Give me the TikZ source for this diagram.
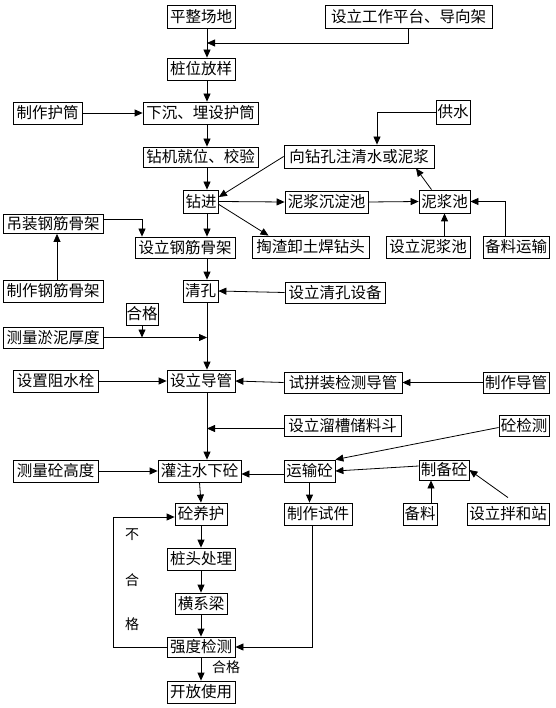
\documentclass[tikz,border=0pt]{standalone}
\usepackage{fontspec}
\usepackage{tikz}
\usetikzlibrary{
    arrows.meta,
    positioning,
    calc
}
\newfontfamily\cjk{Noto Sans CJK SC}
\tikzset{
    % Process box style
    box/.style={
        rectangle,
        draw=black,
        line width=0.8pt,
        inner sep=0.5pt,
        minimum height=22pt,
        align=center,
        font=\cjk\fontsize{15.5}{17}\selectfont
    },
    % Arrow styles
    flow/.style={
        -{Triangle[length=8pt, width=7pt]},
        line width=0.8pt
    },
    link/.style={
        line width=0.8pt
    },
    % Side note style
    note/.style={
        font=\cjk\fontsize{14}{16}\selectfont,
        inner sep=0pt
    }
}
\begin{document}
\begin{tikzpicture}[x=1pt, y=-1pt]
        \useasboundingbox (0,0) rectangle (555,708);
        \coordinate (spine) at (207,0);
        \coordinate (back) at (113,0);

        % Site preparation
        \node[box, minimum width=68pt, minimum height=23pt] (ping) at (201,16.5) {平整场地};
        \node[box, minimum width=167pt, minimum height=23pt] (gongzuo) at (408.5,16.5) {设立工作平台、导向架};
        \node[box, minimum width=68pt] (zhuangwei) at (201,69) {桩位放样};
        \node[box, minimum width=69pt] (hutong) at (47.5,113) {制作护筒};
        \node[box, minimum width=115pt] (xiachen) at (200.5,113) {下沉、埋设护筒};
        \node[box, minimum width=115pt, minimum height=20pt] (zuanji) at (200.5,157) {钻机就位、校验};

        % Drilling and mud
        \node[box, minimum width=34pt, minimum height=24pt] (gongshui) at (453,112) {供水};
        \node[box, minimum width=150pt, minimum height=23pt] (zhushui) at (359,156.5) {向钻孔注清水或泥浆};
        \node[box, minimum width=35pt, minimum height=23pt] (zuanjin) at (201,201.5) {钻进};
        \node[box, minimum width=83pt] (chendian) at (326.5,202) {泥浆沉淀池};
        \node[box, minimum width=51pt, minimum height=23pt] (nijiang) at (444.5,201.5) {泥浆池};
        \node[box, minimum width=117pt] (taozha) at (310.5,247) {掏渣卸土焊钻头};
        \node[box, minimum width=84pt] (shenijiang) at (428,247) {设立泥浆池};
        \node[box, minimum width=66pt] (beiliao) at (516,247) {备料运输};

        % Cage and hole cleaning
        \node[box, minimum width=100pt, minimum height=19pt] (diaozhuang) at (53,224) {吊装钢筋骨架};
        \node[box, minimum width=100pt, minimum height=21pt] (gangjin) at (185,247.5) {设立钢筋骨架};
        \node[box, minimum width=100pt] (zhizuo) at (53,291) {制作钢筋骨架};
        \node[box, minimum width=35pt] (qingkong) at (200.5,291) {清孔};
        \node[box, minimum width=100pt, minimum height=21pt] (qingshebei) at (335,292.5) {设立清孔设备};
        \node[box, minimum width=32pt] (hege) at (142,314) {合格};
        \node[box, minimum width=100pt, minimum height=21pt] (yuni) at (53,337.5) {测量淤泥厚度};

        % Tremie pipe and concreting
        \node[box, minimum width=85pt] (zushui) at (55.5,381) {设置阻水栓};
        \node[box, minimum width=68pt] (daoguan) at (201,381) {设立导管};
        \node[box, minimum width=118pt, minimum height=21pt] (shipin) at (343,382.5) {试拼装检测导管};
        \node[box, minimum width=66pt, minimum height=21pt] (zhidaoguan) at (516,382.5) {制作导管};
        \node[box, minimum width=117pt, minimum height=21pt] (liucao) at (342.5,425.5) {设立溜槽储料斗};
        \node[box, minimum width=50pt, minimum height=21pt] (jiance) at (524,425.5) {砼检测};
        \node[box, minimum width=85pt] (gaodu) at (55.5,471) {测量砼高度};
        \node[box, minimum width=83pt] (guanzhu) at (199.5,471) {灌注水下砼};
        \node[box, minimum width=51pt] (yunshu) at (309.5,471) {运输砼};
        \node[box, minimum width=50pt, minimum height=20pt] (zhibei) at (444,470) {制备砼};
        \node[box, minimum width=34pt] (beiliaob) at (420,514) {备料};
        \node[box, minimum width=82pt] (banhe) at (508,514) {设立拌和站};

        % Curing and testing
        \node[box, minimum width=52pt] (yanghu) at (201,514) {砼养护};
        \node[box, minimum width=68pt] (shijian) at (318,514) {制作试件};
        \node[box, minimum width=68pt] (zhuangtou) at (201,559) {桩头处理};
        \node[box, minimum width=52pt, minimum height=21pt] (hengxi) at (201,603.5) {横系梁};
        \node[box, minimum width=68pt, minimum height=20pt] (qiangdu) at (201,647) {强度检测};
        \node[box, minimum width=68pt] (kaifang) at (201,692) {开放使用};
        \node[note] (bu) at (132,535) {不};
        \node[note] (he) at (132,580) {合};
        \node[note] (ge) at (132,624) {格};
        \node[note] (ok) at (226,667) {合格};

        % Main line
        \draw[flow] (ping.south -| spine) -- (zhuangwei.north -| spine);
        \draw[flow] (zhuangwei.south -| spine) -- (xiachen.north -| spine);
        \draw[flow] (xiachen.south -| spine) -- (zuanji.north -| spine);
        \draw[flow] (zuanji.south -| spine) -- (zuanjin.north -| spine);
        \draw[flow] (zuanjin.south -| spine) -- (gangjin.north -| spine);
        \draw[flow] (gangjin.south -| spine) -- (qingkong.north -| spine);
        \draw[flow] (qingkong.south -| spine) -- (daoguan.north -| spine);
        \draw[flow] (daoguan.south -| spine) -- (guanzhu.north -| spine);
        \draw[flow] (guanzhu.south) -- (yanghu.north);
        \draw[flow] (yanghu.south) -- (zhuangtou.north);
        \draw[flow] (zhuangtou.south) -- (hengxi.north);
        \draw[flow] (hengxi.south) -- (qiangdu.north);
        \draw[flow] (qiangdu.south) -- (kaifang.north);

        % Side inputs
        \draw[flow] (gongzuo.south) |- (spine |- 0,43);
        \draw[flow] (hutong.east) -- (xiachen.west);
        \draw[flow] (gongshui.west) -| ([xshift=18pt]zhushui.north);
        \draw[flow] (zhushui.west) -- ([yshift=4.5pt]zuanjin.east);
        \draw[flow] (zuanjin.east) -- (chendian.west);
        \draw[flow] ([yshift=-3pt]zuanjin.east) -- ([xshift=-42pt]taozha.north);
        \draw[flow] (chendian.east) -- (nijiang.west);
        \draw[flow] ([xshift=-13pt]nijiang.north) -- ([xshift=57pt]zhushui.south);
        \draw[flow] (shenijiang.north -| nijiang.south) -- (nijiang.south);
        \draw[flow] ([xshift=-11pt]beiliao.north) |- (nijiang.east);
        \draw[flow] ([yshift=5pt]diaozhuang.east) -| ([xshift=-43pt]gangjin.north);
        \draw[flow] (zhizuo.north -| 57,0) -- (diaozhuang.south -| 57,0);
        \draw[flow] (qingshebei.west) -- (qingkong.east);
        \draw[flow] (yuni.east) -- (yuni.east -| spine);
        \draw[flow] (hege.south) -- (hege.south |- yuni.east);
        \draw[flow] (zushui.east) -- (daoguan.west);
        \draw[flow] (shipin.west) -- (daoguan.east);
        \draw[flow] (zhidaoguan.west) -- (shipin.east);
        \draw[flow] ([yshift=-3pt]liucao.west) -- ([yshift=-3pt]liucao.west -| spine);
        \draw[flow] (gaodu.east) -- (guanzhu.west);
        \draw[flow] ([yshift=-3pt]yunshu.west) -- ([yshift=-3pt]guanzhu.east);
        \draw[flow] ([yshift=-2pt]jiance.west) -- (yunshu.north east);
        \draw[flow] ([yshift=4pt]zhibei.west) -- (yunshu.east);
        \draw[flow] ([xshift=11pt]beiliaob.north) -- ([xshift=11pt]beiliaob.north |- zhibei.south);
        \draw[flow] ([yshift=5pt]banhe.north) -- (zhibei.east);
        \draw[flow] (yunshu.south) -- (yunshu.south |- shijian.north);
        \draw[flow] ([xshift=-6pt]shijian.south) |- (qiangdu.east);
        \draw[flow] (qiangdu.west) -- (qiangdu.west -| back) |- ([yshift=-3pt]yanghu.west);

    \end{tikzpicture}
\end{document}
